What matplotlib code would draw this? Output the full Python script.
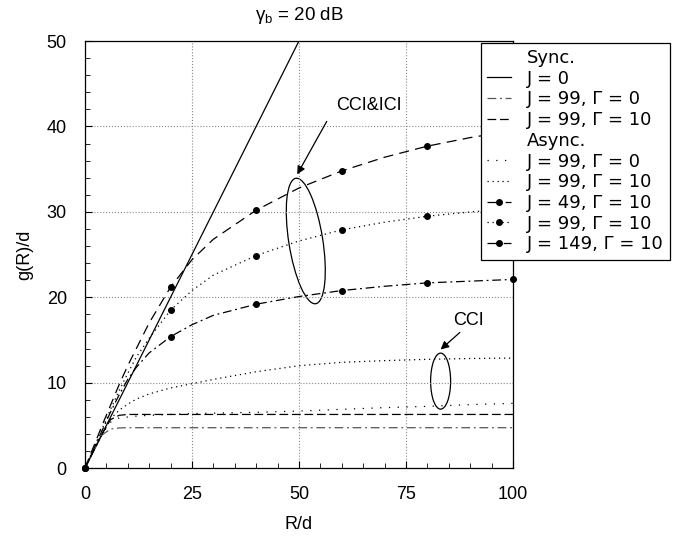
import matplotlib
matplotlib.use("Agg")
import matplotlib.pyplot as plt
import matplotlib.transforms as mtransforms
from matplotlib.patches import Ellipse
from matplotlib.lines import Line2D
from matplotlib.ticker import MultipleLocator

plt.rcParams['font.family'] = ['Liberation Sans', 'DejaVu Sans']
plt.rcParams['mathtext.default'] = 'regular'
plt.rcParams['font.size'] = 13

# normalised radius R/d
R = [0, 2, 4, 6, 8, 10, 12, 15, 20, 25, 30, 40, 50, 60, 70, 80, 90, 100]

# synchronous
sync_j0_R = [0, 100]
sync_j0_g = [0, 100]
sync_j99_g0 = [0, 2, 3.9, 4.6, 4.72, 4.75, 4.75, 4.75, 4.75, 4.75, 4.75, 4.75, 4.75, 4.75, 4.75, 4.75, 4.75, 4.75]
sync_j99_g10 = [0, 2, 4, 5.7, 6.2, 6.3, 6.3, 6.3, 6.3, 6.3, 6.3, 6.3, 6.3, 6.3, 6.3, 6.3, 6.3, 6.3]

# asynchronous
async_j99_g0 = [0, 2, 4, 5.4, 5.9, 6.0, 6.1, 6.2, 6.3, 6.4, 6.45, 6.55, 6.7, 6.9, 7.1, 7.25, 7.45, 7.6]
async_j99_g10 = [0, 2, 4, 5.8, 6.8, 7.5, 8.1, 8.7, 9.4, 9.9, 10.4, 11.3, 12.0, 12.4, 12.6, 12.75, 12.85, 12.9]

# CCI & ICI (markers every 20)
async_j49 = [0, 2.2, 4.4, 6.6, 8.6, 10.4, 11.8, 13.5, 15.4, 16.8, 17.9, 19.2, 20.1, 20.8, 21.3, 21.7, 21.9, 22.1]
async_j99 = [0, 2.3, 4.6, 6.9, 9.1, 11.1, 13.0, 15.2, 18.5, 20.8, 22.6, 24.9, 26.6, 27.9, 28.8, 29.5, 30.0, 30.4]
async_j149 = [0, 2.5, 5.0, 7.4, 9.8, 12.0, 14.0, 17.0, 21.2, 24.4, 26.8, 30.2, 32.8, 34.8, 36.4, 37.7, 38.7, 39.5]
marker_R = [0, 20, 40, 60, 80, 100]

mark_idx = [R.index(r) for r in marker_R]

fig = plt.figure(figsize=(6.96, 5.4), dpi=100)
ax = fig.add_axes([0.122, 0.1328, 0.615, 0.7912])

lw = 0.9
ax.plot(sync_j0_R, sync_j0_g, '-', color='black', lw=lw, label='J = 0')
ax.plot(R, sync_j99_g0, ls=(0, (7, 3, 1.5, 3)), color='#555555', lw=lw, label='J = 99, \u0393 = 0')
ax.plot(R, sync_j99_g10, ls=(0, (7, 3)), color='black', lw=lw, label='J = 99, \u0393 = 10')
ax.plot(R, async_j99_g0, ls=(0, (1, 6)), color='black', lw=lw, label='J = 99, \u0393 = 0')
ax.plot(R, async_j99_g10, ls=(0, (1, 3)), color='black', lw=lw, label='J = 99, \u0393 = 10')
ax.plot(R, async_j49, ls=(0, (7, 3, 1.5, 3)), color='black', lw=lw, marker='o', ms=4,
        markevery=mark_idx, clip_on=False, label='J = 49, \u0393 = 10')
ax.plot(R, async_j99, ls=(0, (1, 3)), color='black', lw=lw, marker='o', ms=4,
        markevery=mark_idx, clip_on=False, label='J = 99, \u0393 = 10')
ax.plot(R, async_j149, ls=(0, (8, 5)), color='black', lw=lw, marker='o', ms=4,
        markevery=mark_idx, clip_on=False, label='J = 149, \u0393 = 10')

ax.set_xlim(0, 100)
ax.set_ylim(0, 50)
ax.xaxis.set_major_locator(MultipleLocator(25))
ax.xaxis.set_minor_locator(MultipleLocator(5))
ax.yaxis.set_major_locator(MultipleLocator(10))
ax.yaxis.set_minor_locator(MultipleLocator(2))
ax.tick_params(which='both', direction='in', top=False, right=False)
ax.tick_params(which='major', length=5, pad=13, labelsize=13)
ax.tick_params(which='minor', length=3.5)
ax.grid(which='major', ls=':', color='#888888', lw=0.8)
for s in ax.spines.values():
    s.set_linewidth(0.9)

ax.set_xlabel('R/d', labelpad=9)
ax.set_ylabel('g(R)/d', labelpad=10)
ax.set_title(r'$\gamma_b$ = 20 dB', fontsize=13.5, pad=15)

# ellipses marking the curve groups, sized in inches around a data point
def mark_group(x, y, w, h, angle):
    tr = fig.dpi_scale_trans + mtransforms.ScaledTranslation(x, y, ax.transData)
    ax.add_patch(Ellipse((0, 0), w, h, angle=angle, fill=False, lw=0.9,
                         color='black', transform=tr, clip_on=False))

mark_group(51.6, 26.6, 0.34, 1.27, 9)
mark_group(83.1, 10.2, 0.20, 0.56, 0)

arrow = dict(arrowstyle='-|>', color='black', lw=0.9, mutation_scale=12, shrinkA=0, shrinkB=0)
ax.text(66.4, 42.4, 'CCI&ICI', ha='center', va='center', fontsize=13)
ax.annotate('', xy=(49.6, 34.4), xytext=(56.5, 40.6), arrowprops=arrow)
ax.text(89.7, 17.3, 'CCI', ha='center', va='center', fontsize=13)
ax.annotate('', xy=(83.1, 13.9), xytext=(87.6, 15.9), arrowprops=arrow)

# legend with group headers
handles, labels = ax.get_legend_handles_labels()
blank = Line2D([], [], color='none')
leg_handles = [blank] + handles[:3] + [blank] + handles[3:]
leg_labels = ['Sync.'] + labels[:3] + ['Async.'] + labels[3:]
leg = fig.legend(leg_handles, leg_labels, loc='upper left', bbox_to_anchor=(0.691, 0.921),
                 borderaxespad=0, prop={'family': 'DejaVu Sans', 'size': 13},
                 handlelength=1.3, handletextpad=0.9, labelspacing=0.15,
                 borderpad=0.35, fancybox=False, framealpha=1, edgecolor='black')
leg.get_frame().set_linewidth(0.9)
leg.set_zorder(10)

plt.savefig('out.png', dpi=100)
